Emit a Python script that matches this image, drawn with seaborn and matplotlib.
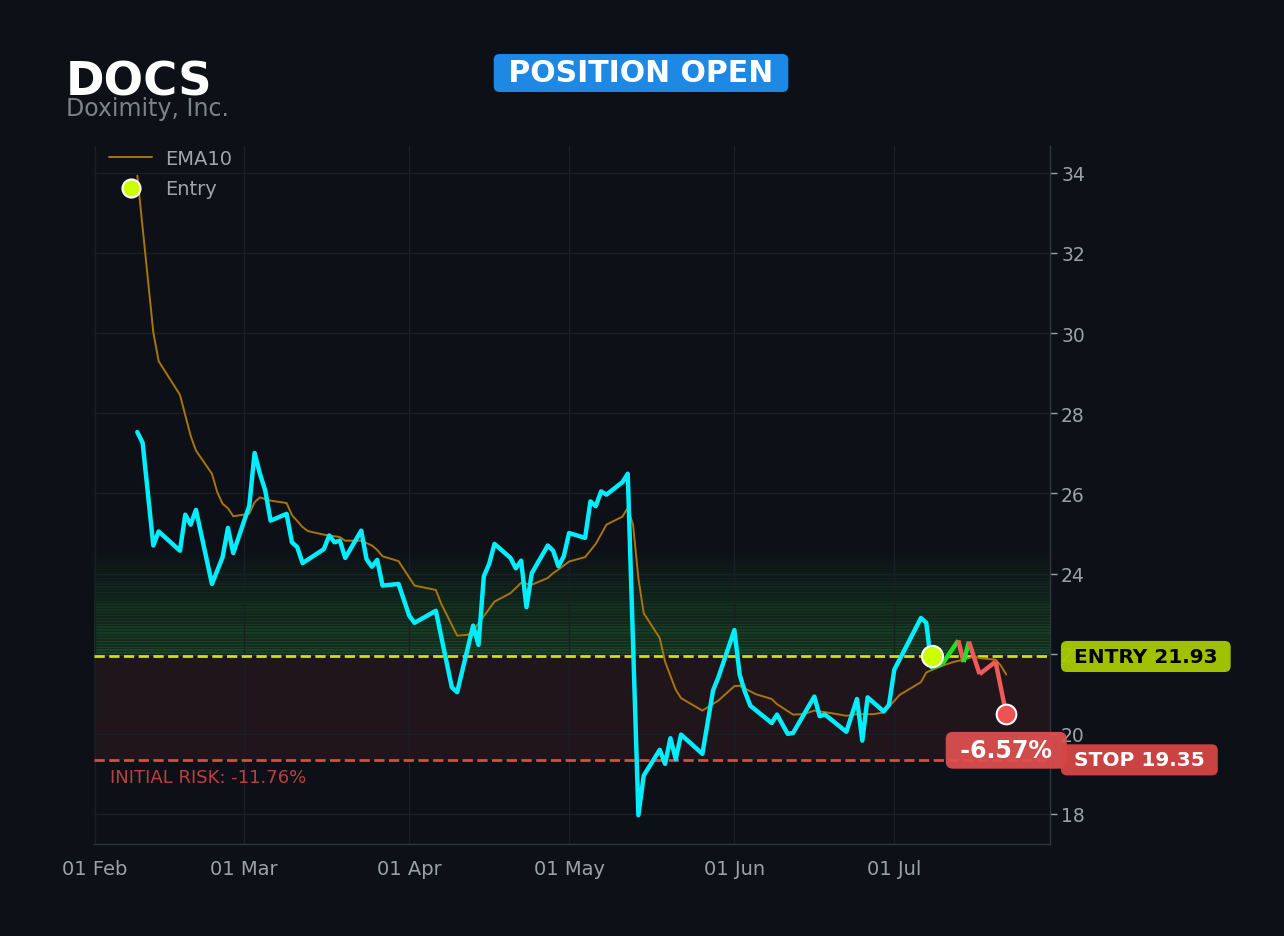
import pandas as pd
import numpy as np
import matplotlib
matplotlib.use("Agg")
import matplotlib.pyplot as plt
import matplotlib.dates as mdates
from matplotlib.lines import Line2D
import seaborn as sns

# --- data ---
ticker = "DOCS"
company = "Doximity, Inc."
entry_price = 21.93
stop_price = 19.35
entry_date = "2025-07-08"

price_dates = [
    "2025-02-09", "2025-02-10", "2025-02-12", "2025-02-13", "2025-02-17", "2025-02-18",
    "2025-02-19", "2025-02-20", "2025-02-23", "2025-02-25", "2025-02-26", "2025-02-27",
    "2025-03-02", "2025-03-03", "2025-03-04", "2025-03-05", "2025-03-06", "2025-03-09",
    "2025-03-10", "2025-03-11", "2025-03-12", "2025-03-16", "2025-03-17", "2025-03-18",
    "2025-03-19", "2025-03-20", "2025-03-23", "2025-03-24", "2025-03-25", "2025-03-26",
    "2025-03-27", "2025-03-30", "2025-04-01", "2025-04-02", "2025-04-06", "2025-04-09",
    "2025-04-10", "2025-04-13", "2025-04-14", "2025-04-15", "2025-04-16", "2025-04-17",
    "2025-04-20", "2025-04-21", "2025-04-22", "2025-04-23", "2025-04-24", "2025-04-27",
    "2025-04-28", "2025-04-29", "2025-04-30", "2025-05-01", "2025-05-04", "2025-05-05",
    "2025-05-06", "2025-05-07", "2025-05-08", "2025-05-11", "2025-05-12", "2025-05-14",
    "2025-05-15", "2025-05-18", "2025-05-19", "2025-05-20", "2025-05-21", "2025-05-22",
    "2025-05-26", "2025-05-28", "2025-05-29", "2025-06-01", "2025-06-02", "2025-06-03",
    "2025-06-04", "2025-06-08", "2025-06-09", "2025-06-11", "2025-06-12", "2025-06-16",
    "2025-06-17", "2025-06-18", "2025-06-22", "2025-06-24", "2025-06-25", "2025-06-26",
    "2025-06-29", "2025-06-30", "2025-07-01", "2025-07-06", "2025-07-07", "2025-07-08",
    "2025-07-10", "2025-07-13", "2025-07-14", "2025-07-15", "2025-07-17", "2025-07-20",
    "2025-07-22",
]
price_close = [
    27.53, 27.26, 24.70, 25.05, 24.57, 25.47,
    25.22, 25.59, 23.74, 24.41, 25.14, 24.51,
    25.69, 27.01, 26.49, 26.07, 25.32, 25.49,
    24.78, 24.66, 24.26, 24.61, 24.95, 24.78,
    24.82, 24.39, 25.07, 24.36, 24.17, 24.34,
    23.70, 23.74, 22.95, 22.77, 23.07, 21.16,
    21.04, 22.70, 22.22, 23.93, 24.24, 24.74,
    24.39, 24.13, 24.32, 23.16, 24.01, 24.70,
    24.57, 24.18, 24.43, 25.01, 24.89, 25.80,
    25.68, 26.05, 25.97, 26.28, 26.49, 17.97,
    18.96, 19.60, 19.25, 19.89, 19.37, 19.98,
    19.50, 21.08, 21.41, 22.59, 21.47, 21.04,
    20.70, 20.27, 20.48, 20.00, 20.02, 20.93,
    20.44, 20.48, 20.05, 20.87, 19.83, 20.91,
    20.56, 20.72, 21.60, 22.89, 22.77, 21.66,
    21.74, 22.33, 21.79, 22.30, 21.49, 21.80,
    20.49,
]

ema_dates = [
    "2025-02-09", "2025-02-12", "2025-02-13", "2025-02-17", "2025-02-19", "2025-02-20",
    "2025-02-23", "2025-02-24", "2025-02-25", "2025-02-26", "2025-02-27", "2025-03-02",
    "2025-03-03", "2025-03-04", "2025-03-06", "2025-03-09", "2025-03-10", "2025-03-12",
    "2025-03-13", "2025-03-16", "2025-03-19", "2025-03-20", "2025-03-23", "2025-03-25",
    "2025-03-26", "2025-03-27", "2025-03-30", "2025-04-02", "2025-04-06", "2025-04-07",
    "2025-04-10", "2025-04-12", "2025-04-13", "2025-04-17", "2025-04-20", "2025-04-22",
    "2025-04-24", "2025-04-27", "2025-04-28", "2025-04-29", "2025-05-01", "2025-05-04",
    "2025-05-06", "2025-05-08", "2025-05-11", "2025-05-12", "2025-05-13", "2025-05-14",
    "2025-05-15", "2025-05-18", "2025-05-19", "2025-05-21", "2025-05-22", "2025-05-26",
    "2025-05-29", "2025-06-01", "2025-06-02", "2025-06-05", "2025-06-08", "2025-06-09",
    "2025-06-12", "2025-06-14", "2025-06-16", "2025-06-19", "2025-06-22", "2025-06-24",
    "2025-06-27", "2025-06-29", "2025-07-02", "2025-07-06", "2025-07-07", "2025-07-08",
    "2025-07-10", "2025-07-12", "2025-07-14", "2025-07-16", "2025-07-17", "2025-07-20",
    "2025-07-21", "2025-07-22",
]
ema_values = [
    33.93, 30.02, 29.30, 28.46, 27.44, 27.07,
    26.49, 26.03, 25.74, 25.63, 25.43, 25.49,
    25.78, 25.90, 25.82, 25.76, 25.46, 25.16,
    25.06, 24.97, 24.91, 24.82, 24.82, 24.70,
    24.59, 24.43, 24.31, 23.70, 23.59, 23.25,
    22.45, 22.47, 22.57, 23.30, 23.51, 23.77,
    23.72, 23.89, 24.01, 24.10, 24.30, 24.41,
    24.74, 25.22, 25.42, 25.64, 25.21, 23.87,
    23.01, 22.39, 21.80, 21.10, 20.89, 20.58,
    20.83, 21.19, 21.20, 20.99, 20.87, 20.74,
    20.48, 20.49, 20.58, 20.52, 20.45, 20.49,
    20.49, 20.53, 20.97, 21.29, 21.53, 21.59,
    21.70, 21.79, 21.85, 21.93, 21.89, 21.85,
    21.70, 21.48,
]

# --- styling ---
BG = "#0d1117"
GRID = "#1a1f26"
SPINE = "#30363d"
TICK = "#9ba1a8"
CYAN = "#00eeff"
EMA_COL = "#a8750c"
ENTRY_COL = "#c8e600"
STOP_COL = "#e04848"
UP_COL = "#22e022"
DOWN_COL = "#f05a5a"

sns.set_theme(style="dark")
plt.rcParams["font.family"] = ["DejaVu Sans"]

price = pd.DataFrame({"Date": pd.to_datetime(price_dates), "Close": price_close})
ema = pd.DataFrame({"Date": pd.to_datetime(ema_dates), "EMA10": ema_values})
entry_ts = pd.Timestamp(entry_date)

fig = plt.figure(figsize=(12.84, 9.37), dpi=100, facecolor=BG)
ax = fig.add_axes([94 / 1284, 1 - 845 / 937, 956 / 1284, 698 / 937])
ax.set_facecolor(BG)

# zones: risk (stop -> entry) and a striped, fading target zone above entry
ax.axhspan(stop_price, entry_price, color="#e5484d", alpha=0.09, lw=0, zorder=0)
risk = entry_price - stop_price
n_bands = 36
edges = np.linspace(entry_price, entry_price + risk, n_bands + 1)
step = edges[1] - edges[0]
for i in range(n_bands):
    a = (1 - i / n_bands) ** 0.9
    ax.axhspan(edges[i], edges[i + 1], color="#2ea043", alpha=0.22 * a, lw=0, zorder=0)
    ax.axhspan(edges[i], edges[i] + 0.45 * step, color="#2ea043", alpha=0.2 * a,
               lw=0, zorder=0)

ax.axhline(entry_price, color=ENTRY_COL, lw=2, ls="--", zorder=3)
ax.axhline(stop_price, color=STOP_COL, lw=2, ls="--", zorder=3)

# EMA and price before entry
sns.lineplot(data=ema, x="Date", y="EMA10", ax=ax, color=EMA_COL, lw=1.4,
             estimator=None, zorder=4, legend=False)
pre = price[price["Date"] <= entry_ts]
sns.lineplot(data=pre, x="Date", y="Close", ax=ax, color=CYAN, lw=3.2,
             estimator=None, zorder=5, legend=False)

# price after entry, coloured against the EMA
post = price[price["Date"] >= entry_ts].reset_index(drop=True)
ema_num = mdates.date2num(ema["Date"])
for i in range(1, len(post)):
    d1 = post.loc[i, "Date"]
    ema_here = np.interp(mdates.date2num(d1), ema_num, ema["EMA10"])
    col = UP_COL if post.loc[i, "Close"] > ema_here else DOWN_COL
    ax.plot(post.loc[i - 1:i, "Date"], post.loc[i - 1:i, "Close"], color=col,
            lw=3.2, zorder=5, solid_capstyle="butt")

# markers
ax.scatter([entry_ts], [entry_price], s=230, color="#ccff00", edgecolor="white",
           linewidth=1.5, zorder=7)
last = price.iloc[-1]
ax.scatter([last["Date"]], [last["Close"]], s=200, color="#f05252", edgecolor="white",
           linewidth=1.5, zorder=7)

pnl = (last["Close"] / entry_price - 1) * 100
init_risk = (stop_price / entry_price - 1) * 100

ax.annotate(f" {pnl:.2f}% ", (last["Date"], last["Close"]), xytext=(0, -26),
            textcoords="offset points", ha="center", va="center", color="white",
            fontsize=17, fontweight="bold", zorder=9,
            bbox=dict(boxstyle="round,pad=0.27,rounding_size=0.3", fc="#e05050",
                      ec="none", alpha=0.92))

ytr = ax.get_yaxis_transform()
ax.text(1.0 + 17 / 956, entry_price, " ENTRY 21.93 ", transform=ytr, ha="left",
        va="center", fontsize=14.5, fontweight="bold", color="black", zorder=10,
        clip_on=False,
        bbox=dict(boxstyle="round,pad=0.3,rounding_size=0.3", fc="#a8cc00",
                  ec="none", alpha=0.95))
ax.text(1.0 + 17 / 956, stop_price, " STOP 19.35 ", transform=ytr, ha="left",
        va="center", fontsize=14.5, fontweight="bold", color="white", zorder=10,
        clip_on=False,
        bbox=dict(boxstyle="round,pad=0.3,rounding_size=0.3", fc="#d64545",
                  ec="none", alpha=0.95))
ax.text(16 / 956, stop_price - 0.43, f"INITIAL RISK: {init_risk:.2f}%",
        transform=ytr, ha="left", va="center", fontsize=13, color="#d04545",
        alpha=0.9, zorder=6)

# axes
ax.set_xlim(pd.Timestamp("2025-02-01") - pd.Timedelta(hours=3),
            pd.Timestamp("2025-07-30") + pd.Timedelta(hours=5))
ax.set_ylim(17.25, 34.67)
ax.xaxis.set_major_locator(mdates.MonthLocator())
ax.xaxis.set_major_formatter(mdates.DateFormatter("%d %b"))
ax.set_yticks(np.arange(18, 35, 2))
ax.yaxis.tick_right()
ax.tick_params(axis="both", colors=TICK, length=5, width=1, direction="out")
ax.tick_params(axis="x", labelsize=14, pad=6)
ax.tick_params(axis="y", labelsize=13.5, pad=3)
ax.set_xlabel("")
ax.set_ylabel("")
ax.grid(True, color=GRID, lw=1)
ax.set_axisbelow(True)
for side in ["left", "top"]:
    ax.spines[side].set_visible(False)
for side in ["right", "bottom"]:
    ax.spines[side].set_color(SPINE)
    ax.spines[side].set_linewidth(1)

handles = [
    Line2D([], [], color=EMA_COL, lw=1.4, label="EMA10"),
    Line2D([], [], ls="none", marker="o", markersize=13, markerfacecolor="#ccff00",
           markeredgecolor="white", markeredgewidth=1.5, label="Entry"),
]
ax.legend(handles=handles, loc="upper left", frameon=False, fontsize=14,
          labelcolor="#a0a4a8", borderaxespad=0.2, handlelength=2.2,
          handletextpad=0.7, labelspacing=0.6,
          bbox_to_anchor=(3.5 / 956, 1 + 9 / 698))

# header
fig.text(66 / 1284, 1 - 95 / 937, ticker, fontsize=33.5, fontweight="bold",
         color="white", ha="left", va="baseline")
fig.text(66 / 1284, 1 - 116 / 937, company, fontsize=17, color="#7d8288",
         ha="left", va="baseline")
fig.text(641 / 1284, 1 - 74 / 937, " POSITION OPEN ", fontsize=21.5, fontweight="bold",
         color="white", ha="center", va="center",
         bbox=dict(boxstyle="round,pad=0.15,rounding_size=0.2", fc="#1e88e5", ec="none"))

fig.savefig("out.png", dpi=100, facecolor=BG)
